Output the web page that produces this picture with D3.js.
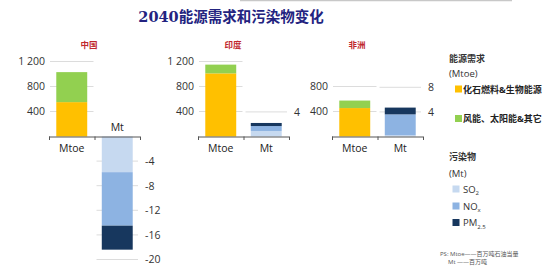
<!DOCTYPE html>
<html>
<head>
<meta charset="utf-8">
<script src="https://cdn.jsdelivr.net/npm/d3@7"></script>
<style>
  body { margin: 0; background: #fff; }
  svg { display: block; }
</style>
</head>
<body>
<div id="chart"></div>
<script>
// data
var regions = ['中国', '印度', '非洲'];
var fossil = [550, 1010, 455];          // 化石燃料&生物能源, Mtoe
var renew = [480, 140, 120];            // 风能、太阳能&其它, Mtoe
var so2 = [-5.8, 0.9, 0.2];             // Mt
var nox = [-8.7, 0.8, 3.4];
var pm25 = [-3.9, 0.5, 1.1];
var leftTicks = [[400, 800, 1200], [400, 800, 1200], [400, 800]];
var rightTicks = [[-4, -8, -12, -16, -20], [4], [4, 8]];

var colors = { fossil: '#FFC000', renew: '#92D050', so2: '#C6D9F0', nox: '#8DB3E2', pm: '#17375E' };

var svg = d3.select('#chart')
    .append('svg')
    .attr('width', 549)
    .attr('height', 279);

var font = "'Open Sans', 'Noto Sans CJK SC', sans-serif";

// thin grey rule at the very top
svg.append('line')
    .attr('x1', 240).attr('x2', 512)
    .attr('y1', 0.5).attr('y2', 0.5)
    .attr('stroke', '#c8c8c8').attr('stroke-width', 1.5);

svg.append('text')
    .attr('x', 231)
    .attr('y', 22)
    .attr('text-anchor', 'middle')
    .attr('font-size', '14.5px')
    .attr('font-weight', 'bold')
    .attr('font-family', "'DejaVu Serif', 'Noto Sans CJK SC', serif")
    .attr('fill', '#232380')
    .text('2040能源需求和污染物变化');

var base = 136.5;
var yE = d3.scaleLinear().domain([0, 1200]).range([base, base - 75]);
var yP = d3.scaleLinear().domain([-20, 12]).range([base + 123, base - 73.8]);

// panel extents (axis line start / end)
var panelX = [[49, 140], [198, 289], [332, 423]];
var titleX = [89, 233, 357];

for (let i = 0; i < regions.length; i++) {
    var x0 = panelX[i][0], x1 = panelX[i][1];
    var xm = (x0 + x1) / 2;
    var g = svg.append('g');

    var xScale = d3.scaleBand()
        .domain(['Mtoe', 'Mt'])
        .range([x0, x1])
        .paddingInner(0.32)
        .paddingOuter(0.16);

    g.append('text')
        .attr('x', titleX[i])
        .attr('y', 48)
        .attr('text-anchor', 'middle')
        .attr('font-size', '8.5px')
        .attr('font-weight', 'bold')
        .attr('font-family', "'Noto Sans CJK SC', sans-serif")
        .attr('fill', '#c0272d')
        .text(regions[i]);

    // left grid + labels
    leftTicks[i].forEach(function(t) {
        g.append('line')
            .attr('x1', x0 + 1).attr('x2', xm - 1)
            .attr('y1', yE(t)).attr('y2', yE(t))
            .attr('stroke', '#dcdcdc').attr('stroke-width', 1);
        g.append('text')
            .attr('x', x0 - 4)
            .attr('y', yE(t) + 3.8)
            .attr('text-anchor', 'end')
            .attr('font-size', '10.5px')
            .attr('font-family', font)
            .attr('fill', '#333')
            .text(d3.format(',')(t).replace(',', ' '));
    });

    // right grid + labels
    rightTicks[i].forEach(function(t) {
        g.append('line')
            .attr('x1', xm + 2).attr('x2', x1 - 2)
            .attr('y1', yP(t)).attr('y2', yP(t))
            .attr('stroke', '#dcdcdc').attr('stroke-width', 1);
        g.append('text')
            .attr('x', x1 + 5)
            .attr('y', yP(t) + 3.8)
            .attr('text-anchor', 'start')
            .attr('font-size', '10.5px')
            .attr('font-family', font)
            .attr('fill', '#333')
            .text(t);
    });

    // energy bar
    var bx = xScale('Mtoe'), bw = xScale.bandwidth();
    g.append('rect')
        .attr('x', bx).attr('width', bw)
        .attr('y', yE(fossil[i])).attr('height', base - yE(fossil[i]))
        .attr('fill', colors.fossil);
    g.append('rect')
        .attr('x', bx).attr('width', bw)
        .attr('y', yE(fossil[i] + renew[i])).attr('height', yE(fossil[i]) - yE(fossil[i] + renew[i]))
        .attr('fill', colors.renew);

    // pollutant bar (stacked from 0)
    var px = xScale('Mt');
    var parts = [[so2[i], colors.so2], [nox[i], colors.nox], [pm25[i], colors.pm]];
    var acc = 0;
    parts.forEach(function(p) {
        var a = acc, b = acc + p[0];
        acc = b;
        g.append('rect')
            .attr('x', px).attr('width', bw)
            .attr('y', Math.min(yP(a), yP(b)))
            .attr('height', Math.abs(yP(a) - yP(b)))
            .attr('fill', p[1]);
    });

    // base axis
    g.append('line')
        .attr('x1', x0).attr('x2', x1)
        .attr('y1', base + 0.5).attr('y2', base + 0.5)
        .attr('stroke', '#555').attr('stroke-width', 1);
    [x0, (x0 + x1) / 2, x1].forEach(function(tx) {
        g.append('line')
            .attr('x1', tx + 0.5).attr('x2', tx + 0.5)
            .attr('y1', base).attr('y2', base + 3.5)
            .attr('stroke', '#555').attr('stroke-width', 1);
    });

    g.append('text')
        .attr('x', bx + bw / 2)
        .attr('y', base + 15)
        .attr('text-anchor', 'middle')
        .attr('font-size', '10.5px')
        .attr('font-family', font)
        .attr('fill', '#222')
        .text('Mtoe');
    var mtDown = pm25[i] + nox[i] + so2[i] < 0;
    g.append('text')
        .attr('x', px + bw / 2)
        .attr('y', mtDown ? base - 6 : base + 15)
        .attr('text-anchor', 'middle')
        .attr('font-size', '10.5px')
        .attr('font-family', font)
        .attr('fill', '#222')
        .text('Mt');
}

// legend
var lg = svg.append('g');
function legText(x, y, txt, bold, size) {
    return lg.append('text')
        .attr('x', x).attr('y', y)
        .attr('font-size', size || '9px')
        .attr('font-weight', bold ? 'bold' : 'normal')
        .attr('font-family', font)
        .attr('fill', '#333')
        .text(txt);
}
legText(449, 61.5, '能源需求', true);
legText(449, 77, '(Mtoe)', false, '9.5px');
var energyLeg = [['化石燃料&生物能源', colors.fossil, 89], ['风能、太阳能&其它', colors.renew, 118.5]];
energyLeg.forEach(function(d) {
    lg.append('rect').attr('x', 455).attr('y', d[2] - 3.5).attr('width', 7).attr('height', 7).attr('fill', d[1]);
    legText(463, d[2] + 3.5, d[0], true).attr('fill', '#222');
});
legText(449, 160, '污染物', true);
legText(449, 176.5, '(Mt)', false, '9.5px');
var polLeg = [['SO', '2', colors.so2, 189], ['NO', 'x', colors.nox, 206], ['PM', '2.5', colors.pm, 222.5]];
polLeg.forEach(function(d) {
    lg.append('rect').attr('x', 452.5).attr('y', d[3] - 3.5).attr('width', 7).attr('height', 7).attr('fill', d[2]);
    var t = legText(463, d[3] + 3.5, '', false, '9.5px');
    t.append('tspan').text(d[0]);
    t.append('tspan').attr('dy', 2.5).attr('font-size', '6px').text(d[1]);
});

legText(440, 256, 'PS: Mtoe——百万吨石油当量', false, '6px').attr('fill', '#555');
legText(448, 263.5, 'Mt   ——百万吨', false, '6px').attr('fill', '#555');
</script>
</body>
</html>
